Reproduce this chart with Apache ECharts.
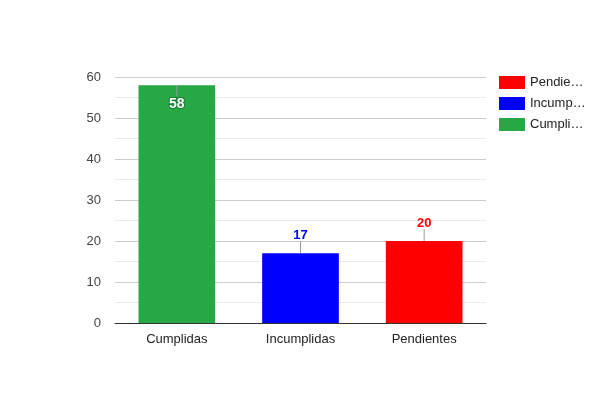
<!DOCTYPE html>
<html><head><meta charset="utf-8">
<script src="https://cdn.jsdelivr.net/npm/echarts@6/dist/echarts.min.js"></script>
<style>html,body{margin:0;padding:0;background:#fff}#c{width:600px;height:400px}</style>
</head><body><div id="c"></div>
<script>
const categories = ['Cumplidas', 'Incumplidas', 'Pendientes'];
const seriesNames = ['Cumplidas', 'Incumplidas', 'Pendientes'];
const values = [58, 17, 20];
const colors = ['#28a745', '#0000ff', '#ff0000'];
const yTicks = [0, 10, 20, 30, 40, 50, 60];
const legendOrder = ['Pendientes', 'Incumplidas', 'Cumplidas'];

const chart = echarts.init(document.getElementById('c'));
const font = 'Arial, "Liberation Sans", sans-serif';

const barSeries = seriesNames.map((n, i) => ({
  name: n, type: 'bar', stack: 'all', barWidth: '62%',
  itemStyle: { color: colors[i] },
  data: categories.map((c, j) => j === i ? values[i] : null)
}));

const annot = {
  type: 'custom', silent: true, z: 10,
  data: values.map((v, i) => [i, v]),
  renderItem: function (params, api) {
    const i = api.value(0), v = api.value(1);
    const p = api.coord([i, v]);
    const top = params.coordSys.y;
    const inside = p[1] - 26 < top;
    const col = colors[i];
    if (inside) {
      return { type: 'group', children: [
        { type: 'line', shape: { x1: p[0], y1: p[1], x2: p[0], y2: p[1] + 11 }, style: { stroke: '#999', lineWidth: 1 } },
        { type: 'text', x: p[0], y: p[1] + 19, style: { text: String(v), fill: '#fff', stroke: '#1e7a34', lineWidth: 2, font: 'bold 14px ' + font, align: 'center', verticalAlign: 'middle' } }
      ]};
    }
    return { type: 'group', children: [
      { type: 'line', shape: { x1: p[0], y1: p[1], x2: p[0], y2: p[1] - 12 }, style: { stroke: '#999', lineWidth: 1 } },
      { type: 'text', x: p[0], y: p[1] - 18, style: { text: String(v), fill: col, font: 'bold 13px ' + font, align: 'center', verticalAlign: 'middle' } }
    ]};
  }
};

chart.setOption({
  animation: false,
  textStyle: { fontFamily: font },
  grid: { left: 115, right: 114, top: 77, bottom: 77, containLabel: false },
  legend: {
    orient: 'vertical', left: 499, top: 76, itemGap: 8, padding: 0,
    itemWidth: 26, itemHeight: 13, icon: 'rect',
    data: legendOrder,
    textStyle: { fontSize: 13, color: '#222', width: 58, overflow: 'truncate', ellipsis: '…' }
  },
  xAxis: {
    type: 'category', data: categories,
    axisLine: { lineStyle: { color: '#333' } },
    axisTick: { show: false },
    axisLabel: { color: '#222', fontSize: 13, margin: 10 }
  },
  yAxis: {
    type: 'value', min: yTicks[0], max: yTicks[yTicks.length - 1], interval: 10,
    axisLine: { show: false }, axisTick: { show: false },
    axisLabel: { color: '#444', fontSize: 13, margin: 14 },
    splitLine: { lineStyle: { color: '#cccccc' } },
    minorTick: { show: false, splitNumber: 2 },
    minorSplitLine: { show: true, lineStyle: { color: '#ebebeb' } }
  },
  series: barSeries.concat([annot])
});
</script></body></html>
